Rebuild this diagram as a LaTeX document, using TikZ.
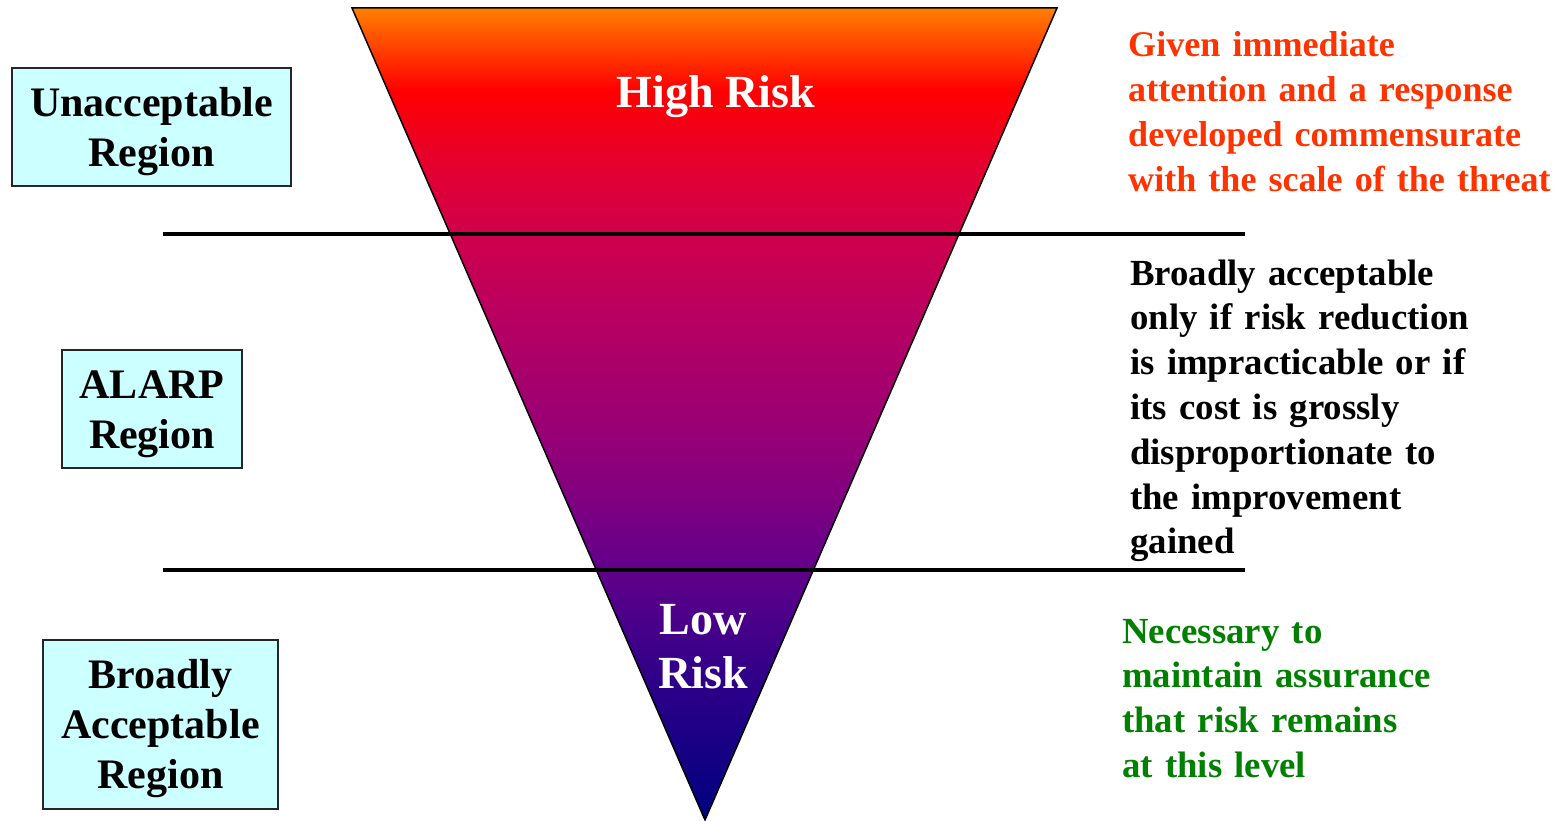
\documentclass[tikz,border=0pt]{standalone}
\usepackage{fontspec}
\setmainfont{Liberation Serif}
\definecolor{boxcyan}{HTML}{CCFFFF}
\definecolor{warnorange}{HTML}{FF3300}
\definecolor{okgreen}{HTML}{008000}
\definecolor{gA}{HTML}{000080}
\definecolor{gB}{HTML}{1A0084}
\definecolor{gC}{HTML}{2E0088}
\definecolor{gD}{HTML}{66008A}
\definecolor{gE}{HTML}{920078}
\definecolor{gF}{HTML}{B40064}
\definecolor{gG}{HTML}{D0004A}
\definecolor{gH}{HTML}{E8002A}
\definecolor{gI}{HTML}{FF0000}
\definecolor{gJ}{HTML}{FF8000}
\pgfdeclareverticalshading{riskshade}{100bp}{%
  color(0bp)=(gA);
  color(25bp)=(gA);
  color(30bp)=(gB);
  color(33.62bp)=(gC);
  color(41.01bp)=(gD);
  color(47.78bp)=(gE);
  color(55.17bp)=(gF);
  color(61.33bp)=(gG);
  color(66bp)=(gH);
  color(69.95bp)=(gI);
  color(75bp)=(gJ);
  color(100bp)=(gJ)}
\tikzset{
  regionbox/.style={draw=black!85, line width=1.5pt, fill=boxcyan, inner sep=0pt},
  boxtext/.style={align=center, inner sep=0pt, anchor=base,
    font=\fontsize{42}{50}\selectfont\bfseries},
  risklabel/.style={text=white, align=center, inner sep=0pt, anchor=base,
    font=\fontsize{46}{54}\selectfont\bfseries},
  note/.style={anchor=base west, inner sep=0pt, text width=470pt, align=left,
    font=\fontsize{36.8}{44.8}\selectfont\bfseries},
  divider/.style={line width=4.5pt, black}
}
\begin{document}
\begin{tikzpicture}[x=1pt, y=-1pt]
\useasboundingbox (0,0) rectangle (1558,821);
% triangle
\coordinate (tl) at (352,8);
\coordinate (tr) at (1057,8);
\coordinate (apex) at (705,820);
\path[shading=riskshade, draw=black, line width=1.5pt, line join=miter] (tl) -- (tr) -- (apex) -- cycle;
% dividers
\coordinate (d1l) at (163,234);
\coordinate (d1r) at (1245,234);
\coordinate (d2l) at (163,570);
\coordinate (d2r) at (1245,570);
\draw[divider] (d1l) -- (d1r);
\draw[divider] (d2l) -- (d2r);
% risk labels
\node[risklabel] (high) at (716,108) {High Risk};
\node[risklabel] (low) at (703,688) {Low\\Risk};
% region boxes
\node[regionbox, minimum width=279pt, minimum height=118pt] (unacc) at (151.5,127) {};
\node[regionbox, minimum width=180pt, minimum height=118pt] (alarp) at (152,409) {};
\node[regionbox, minimum width=235pt, minimum height=169pt] (broad) at (160.5,724.5) {};
\node[boxtext] (unacct) at (151.5,167) {Unacceptable\\Region};
\node[boxtext] (alarpt) at (152,448) {ALARP\\Region};
\node[boxtext] (broadt) at (160.5,788) {Broadly\\Acceptable\\Region};
% notes
\node[note, text=warnorange, font=\fontsize{36.1}{44.8}\selectfont\bfseries] (n1) at (1128,57) {Given immediate\\attention and a response\\developed commensurate\\with the scale of the threat};
\node[note, text=black] (n2) at (1130,285) {Broadly acceptable\\only if risk reduction\\is impracticable or if\\its cost is grossly\\disproportionate to\\the improvement\\gained};
\node[note, text=okgreen] (n3) at (1122,643) {Necessary to\\maintain assurance\\that risk remains\\at this level};
\end{tikzpicture}
\end{document}
